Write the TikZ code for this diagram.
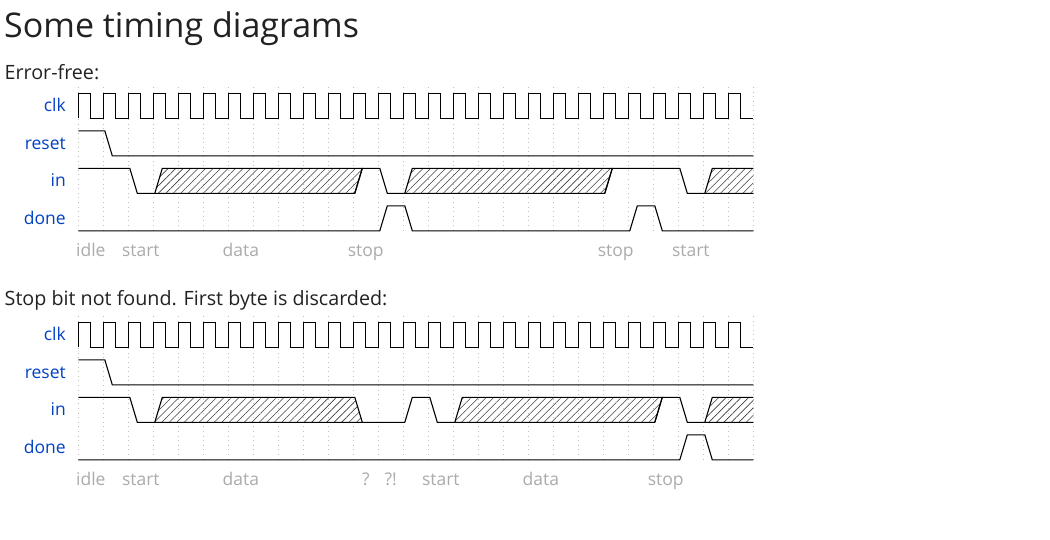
\documentclass[tikz,border=0pt]{standalone}
\usepackage{fontspec}
\setmainfont{Open Sans}
\usepackage{xcolor}
\usetikzlibrary{patterns.meta}
\definecolor{wdblue}{HTML}{0041C4}
\definecolor{ink}{HTML}{222222}
\tikzset{
  sig/.style={line width=1.1pt},
  grd/.style={black!25,line width=0.8pt,dash pattern=on 1pt off 3.6pt},
  hatch/.style={pattern={Lines[angle=45,distance=5.3pt,line width=0.55pt]},pattern color=black!75},
  nm/.style={anchor=base east,inner sep=0pt,text=wdblue,font=\fontsize{17.5}{17.5}\selectfont},
  ph/.style={anchor=base,text=black!33,font=\fontsize{17.5}{17.5}\selectfont},
  hd/.style={anchor=base west,inner sep=0pt,text=ink,font=\fontsize{19.7}{19.7}\selectfont}
}
\newcommand{\cx}[1]{78.3+25*#1}
\newcommand{\up}[2]{-- ({\cx{#1}+1.5},#2+25) -- ({\cx{#1}+9},#2)}
\newcommand{\dn}[2]{-- ({\cx{#1}+1.5},#2) -- ({\cx{#1}+9},#2+25)}
% hatched data cell: top y, first cycle, last cycle, end offsets top/bottom
\newcommand{\xdat}[5]{\fill[hatch] ({\cx{#2}+1.5},#1+25) -- ({\cx{#2}+9},#1) -- ({\cx{#3}+#4},#1) -- ({\cx{#3}+#5},#1+25) -- cycle;
  \draw[sig] ({\cx{#2}+1.5},#1+25) -- ({\cx{#2}+9},#1) -- ({\cx{#3}+#4},#1) -- ({\cx{#3}+#5},#1+25);}
\newcommand{\xopen}[2]{\fill[hatch] ({\cx{#2}+1.5},#1+25) -- ({\cx{#2}+9},#1) -- ({\cx{27}},#1) -- ({\cx{27}},#1+25) -- cycle;
  \draw[sig] ({\cx{#2}+1.5},#1+25) -- ({\cx{#2}+9},#1) -- ({\cx{27}},#1);}
\newcommand{\chart}{%
  \foreach \k in {0,...,27} \draw[grd] ({\cx{\k}},87) -- ({\cx{\k}},233);
  \draw[sig] ({\cx{0}},118.3) \foreach \k in {0,...,26}{ -- ++(0,-25) -- ++(12.5,0) -- ++(0,25) -- ++(12.5,0)};
  \draw[sig] ({\cx{0}},130.8) \dn{1}{130.8} -- ({\cx{27}},155.8);
  \foreach \y/\s/\n in {93.3/clk/clk,130.8/reset/rst,168.3/in/in,205.8/done/done}
    \node[nm] (\n) at (66,\y+18.5) {\s};}

\begin{document}
\begin{tikzpicture}[x=1pt,y=-1pt]
\fill[white] (0,0) rectangle (1050,539);
\node[hd,font=\fontsize{34}{34}\selectfont] (title) at (4,37.3) {Some timing diagrams};
\node[hd] (cap1) at (4.5,79) {Error-free:};
\node[hd] (cap2) at (4.5,305.7) {Stop bit not found. First byte is discarded:};

\begin{scope}[name prefix=a-]
\chart
\xdat{168.3}{3}{11}{9}{1.5}
\xdat{168.3}{13}{21}{9}{1.5}
\xopen{168.3}{25}
\draw[sig] ({\cx{0}},168.3) \dn{2}{168.3} \up{11}{168.3} \dn{12}{168.3} \up{21}{168.3} \dn{24}{168.3} -- ({\cx{27}},193.3);
\draw[sig] ({\cx{0}},230.8) \up{12}{205.8} \dn{13}{205.8} \up{22}{205.8} \dn{23}{205.8} -- ({\cx{27}},230.8);
\foreach \k/\s in {0/idle,2/start,6/data,11/stop,21/stop,24/start}
  \node[ph] (ph\k) at ({\cx{\k}+12.5},256) {\s};
\end{scope}

\begin{scope}[shift={(0,229)},name prefix=b-]
\chart
\xdat{168.3}{3}{11}{1.5}{9}
\xdat{168.3}{15}{23}{9}{1.5}
\xopen{168.3}{25}
\draw[sig] ({\cx{0}},168.3) \dn{2}{168.3} \up{13}{168.3} \dn{14}{168.3} \up{23}{168.3} \dn{24}{168.3} -- ({\cx{27}},193.3);
\draw[sig] ({\cx{0}},230.8) \up{24}{205.8} \dn{25}{205.8} -- ({\cx{27}},230.8);
\foreach \k/\s in {0/idle,2/start,6/data,11/?,12/?!,14/start,18/data,23/stop}
  \node[ph] (ph\k) at ({\cx{\k}+12.5},256) {\s};
\end{scope}
\end{tikzpicture}
\end{document}
